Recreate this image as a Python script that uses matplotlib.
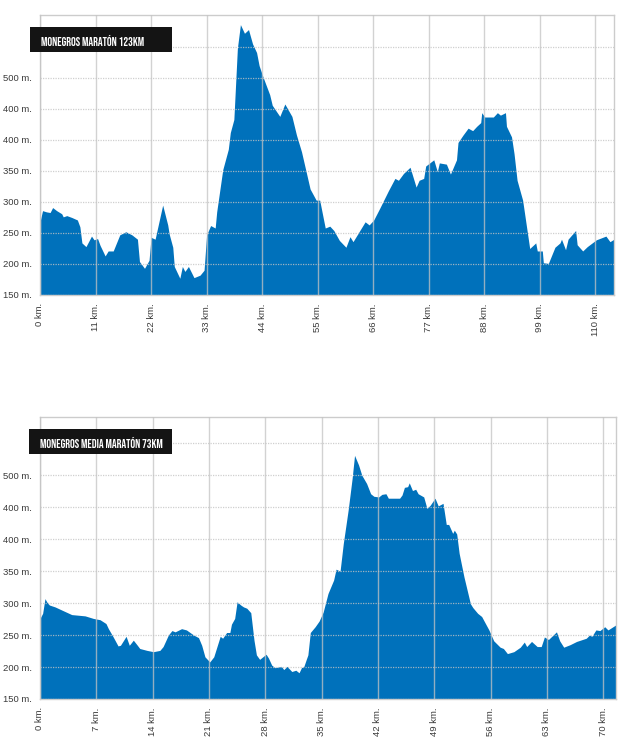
import matplotlib
matplotlib.use("Agg")
import matplotlib.pyplot as plt
from matplotlib.patches import Rectangle

# ---------------- data ----------------
title1 = "MONEGROS MARATÓN 123KM"
title2 = "MONEGROS MEDIA MARATÓN 73KM"

y_ticks = [150, 200, 250, 300, 350, 400, 450, 500, 550]
y_labels = ["150 m.", "200 m.", "250 m.", "300 m.", "350 m.", "400 m.", "400 m.", "500 m.", ""]

x_ticks1 = [0, 11, 22, 33, 44, 55, 66, 77, 88, 99, 110]
x_labels1 = ["0 km.", "11 km.", "22 km.", "33 km.", "44 km.", "55 km.", "66 km.",
             "77 km.", "88 km.", "99 km.", "110 km."]
x_ticks2 = [0, 7, 14, 21, 28, 35, 42, 49, 56, 63, 70]
x_labels2 = ["0 km.", "7 km.", "14 km.", "21 km.", "28 km.", "35 km.", "42 km.",
             "49 km.", "56 km.", "63 km.", "70 km."]

km1 = [0.0, 0.5, 1.3, 2.0, 2.5, 3.3, 4.3, 4.6, 5.3, 6.3, 7.4, 7.9, 8.3, 9.1, 10.2, 10.7,
       11.4, 11.9, 12.9, 13.5, 14.5, 15.8, 17.0, 18.2, 19.3, 19.7, 20.7, 21.6, 22.0, 22.8,
       24.3, 25.3, 25.6, 26.3, 26.6, 27.7, 28.2, 28.7, 29.4, 30.5, 31.7, 32.5, 33.0, 33.8,
       34.7, 35.0, 36.2, 37.3, 37.7, 38.4, 39.1, 39.7, 40.5, 41.3, 42.1, 42.9, 43.4, 44.2,
       45.5, 46.0, 47.5, 48.5, 49.9, 50.8, 51.8, 53.5, 54.7, 55.4, 56.5, 57.4, 58.2, 59.3,
       60.6, 61.4, 62.0, 64.4, 65.2, 66.1, 67.3, 69.0, 70.3, 71.0, 72.0, 73.3, 74.5, 75.1,
       76.0, 76.4, 77.2, 78.0, 78.7, 79.1, 80.5, 81.3, 82.5, 82.8, 83.8, 84.8, 85.7, 86.5,
       87.3, 87.5, 88.1, 89.8, 90.6, 91.2, 92.2, 92.4, 93.4, 93.9, 94.5, 95.6, 97.0, 98.2,
       98.5, 99.5, 99.7, 100.7, 102.0, 103.0, 103.3, 104.1, 104.6, 106.1, 106.4, 107.5,
       108.4, 110.2, 112.1, 112.9, 113.7]
ele1 = [268, 286, 284, 283, 291, 286, 281, 276, 278, 275, 271, 260, 234, 228, 245, 239,
        241, 230, 213, 221, 221, 247, 252, 247, 240, 204, 193, 206, 243, 240,
        295, 263, 248, 227, 196, 177, 196, 188, 196, 178, 182, 190, 247, 262,
        258, 284, 352, 385, 412, 433, 548, 586, 572, 578, 555, 541, 520, 501,
        473, 456, 438, 458, 438, 408, 381, 321, 303, 303, 258, 261, 254, 238,
        227, 244, 236, 268, 263, 271, 290, 318, 338, 335, 346, 356, 324, 335,
        338, 358, 363, 368, 349, 363, 361, 345, 368, 396, 408, 419, 415, 422,
        428, 444, 437, 437, 444, 440, 444, 422, 405, 378, 335, 303, 225, 234,
        221, 221, 202, 201, 227, 234, 240, 223, 240, 254, 231, 221,
        228, 239, 245, 236, 240]

km2 = [0.0, 0.33, 0.62, 0.83, 1.16, 1.87, 2.9, 3.94, 5.6, 6.63, 7.46, 8.2, 8.5, 9.1, 9.7,
       10.0, 10.4, 10.7, 11.1, 11.6, 12.1, 12.4, 13.3, 14.1, 14.9, 15.3, 15.7, 15.95, 16.4,
       16.8, 17.6, 18.2, 19.1, 19.7, 20.1, 20.5, 21.1, 21.6, 22.4, 22.7, 23.2, 23.6, 23.8,
       24.2, 24.5, 24.95, 25.3, 25.7, 26.2, 26.6, 26.9, 27.3, 28.1, 28.4, 28.8, 29.2, 30.0,
       30.3, 30.7, 31.3, 31.8, 32.2, 32.5, 32.8, 33.1, 33.3, 33.6, 34.2, 34.7, 35.2, 35.8,
       36.5, 36.8, 37.3, 37.7, 38.3, 38.8, 39.1, 39.6, 40.0, 40.6, 41.1, 41.5, 42.1, 42.5,
       43.0, 43.3, 44.7, 45.0, 45.3, 45.7, 45.9, 46.3, 46.7, 47.0, 47.7, 48.1, 48.5, 49.1,
       49.5, 50.1, 50.5, 50.8, 51.3, 51.5, 51.8, 52.1, 52.7, 53.5, 53.8, 54.4, 54.9, 55.8,
       56.4, 57.2, 57.6, 58.1, 58.9, 59.7, 60.2, 60.5, 61.1, 61.8, 62.3, 62.7, 63.2, 64.2,
       64.6, 65.1, 65.9, 66.7, 67.9, 68.3, 68.6, 69.1, 69.6, 70.2, 70.6, 71.6]
ele2 = [276, 284, 307, 302, 297, 294, 288, 282, 280, 276, 274, 268, 260, 247, 233,
        234, 242, 248, 234, 242, 234, 229, 226, 224, 226, 232, 243, 250, 257,
        255, 260, 258, 250, 246, 234, 216, 208, 216, 248, 245, 254, 254, 267,
        276, 302, 297, 294, 292, 285, 242, 219, 212, 220, 214, 203, 199, 201,
        196, 201, 193, 195, 191, 199, 201, 212, 219, 254, 263, 272, 286, 315,
        336, 353, 350, 393, 445, 495, 531, 516, 500, 487, 471, 467, 466, 470,
        471, 464, 464, 469, 481, 482, 488, 476, 478, 471, 466, 448, 453, 464,
        452, 456, 423, 423, 409, 414, 408, 378, 341, 299, 293, 284, 279, 258,
        241, 231, 229, 221, 224, 231, 239, 232, 240, 232, 232, 247, 243, 255,
        241, 231, 235, 240, 245, 250, 248, 258, 257, 263, 258, 266]

# ---------------- style ----------------
FILL = "#0071bb"
TXT = "#3a3a3a"
LBL_FONT = ["Liberation Sans", "DejaVu Sans"]
TITLE_FONT = ["Bebas Neue", "Oswald", "Barlow Condensed", "DejaVu Sans"]

fig = plt.figure(figsize=(6.2, 7.41), dpi=100)
W, H = 620.0, 741.0


def panel(rect_px, km, ele, xt, xl, xmax, ymax, title, box_px):
    l, t, r, b = rect_px
    ax = fig.add_axes([l / W, 1 - b / H, (r - l) / W, (b - t) / H])
    ax.fill_between(km, ele, 150, color=FILL, lw=0, zorder=1)
    ax.set_xlim(0, xmax)
    ax.set_ylim(150, ymax)
    ax.set_xticks(xt)
    ax.set_xticklabels(xl, rotation=90, fontsize=6.8, color=TXT, family=LBL_FONT)
    ax.set_yticks(y_ticks)
    ax.set_yticklabels(y_labels, fontsize=6.8, color=TXT, family=LBL_FONT)
    ax.tick_params(length=0, pad=6)
    ax.set_axisbelow(False)
    ax.xaxis.grid(True, color="#c4c4c4", lw=1.0, alpha=0.75, zorder=2)
    ax.yaxis.grid(True, color="#c4c4c4", lw=0.9, ls=(0, (1, 1)), alpha=0.8, zorder=2)
    for s in ax.spines.values():
        s.set_color("#cccccc")
        s.set_linewidth(1.0)
    bl, bt, br, bb = box_px
    fig.add_artist(Rectangle((bl / W, 1 - bb / H), (br - bl) / W, (bb - bt) / H,
                             transform=fig.transFigure, facecolor="#141414",
                             edgecolor="none", zorder=5))
    fig.text((bl + 11) / W, 1 - ((bt + bb) / 2 + 0.5) / H, title, color="white",
             fontsize=8.6, family=TITLE_FONT, ha="left", va="center", zorder=6)
    return ax


panel((40, 15, 614, 295), km1, ele1, x_ticks1, x_labels1, 113.7, 601.5,
      title1, (30, 27, 172, 52))
panel((40, 417, 616, 699), km2, ele2, x_ticks2, x_labels2, 71.6, 591,
      title2, (29, 429, 172, 454))

fig.savefig("out.png", dpi=100)
